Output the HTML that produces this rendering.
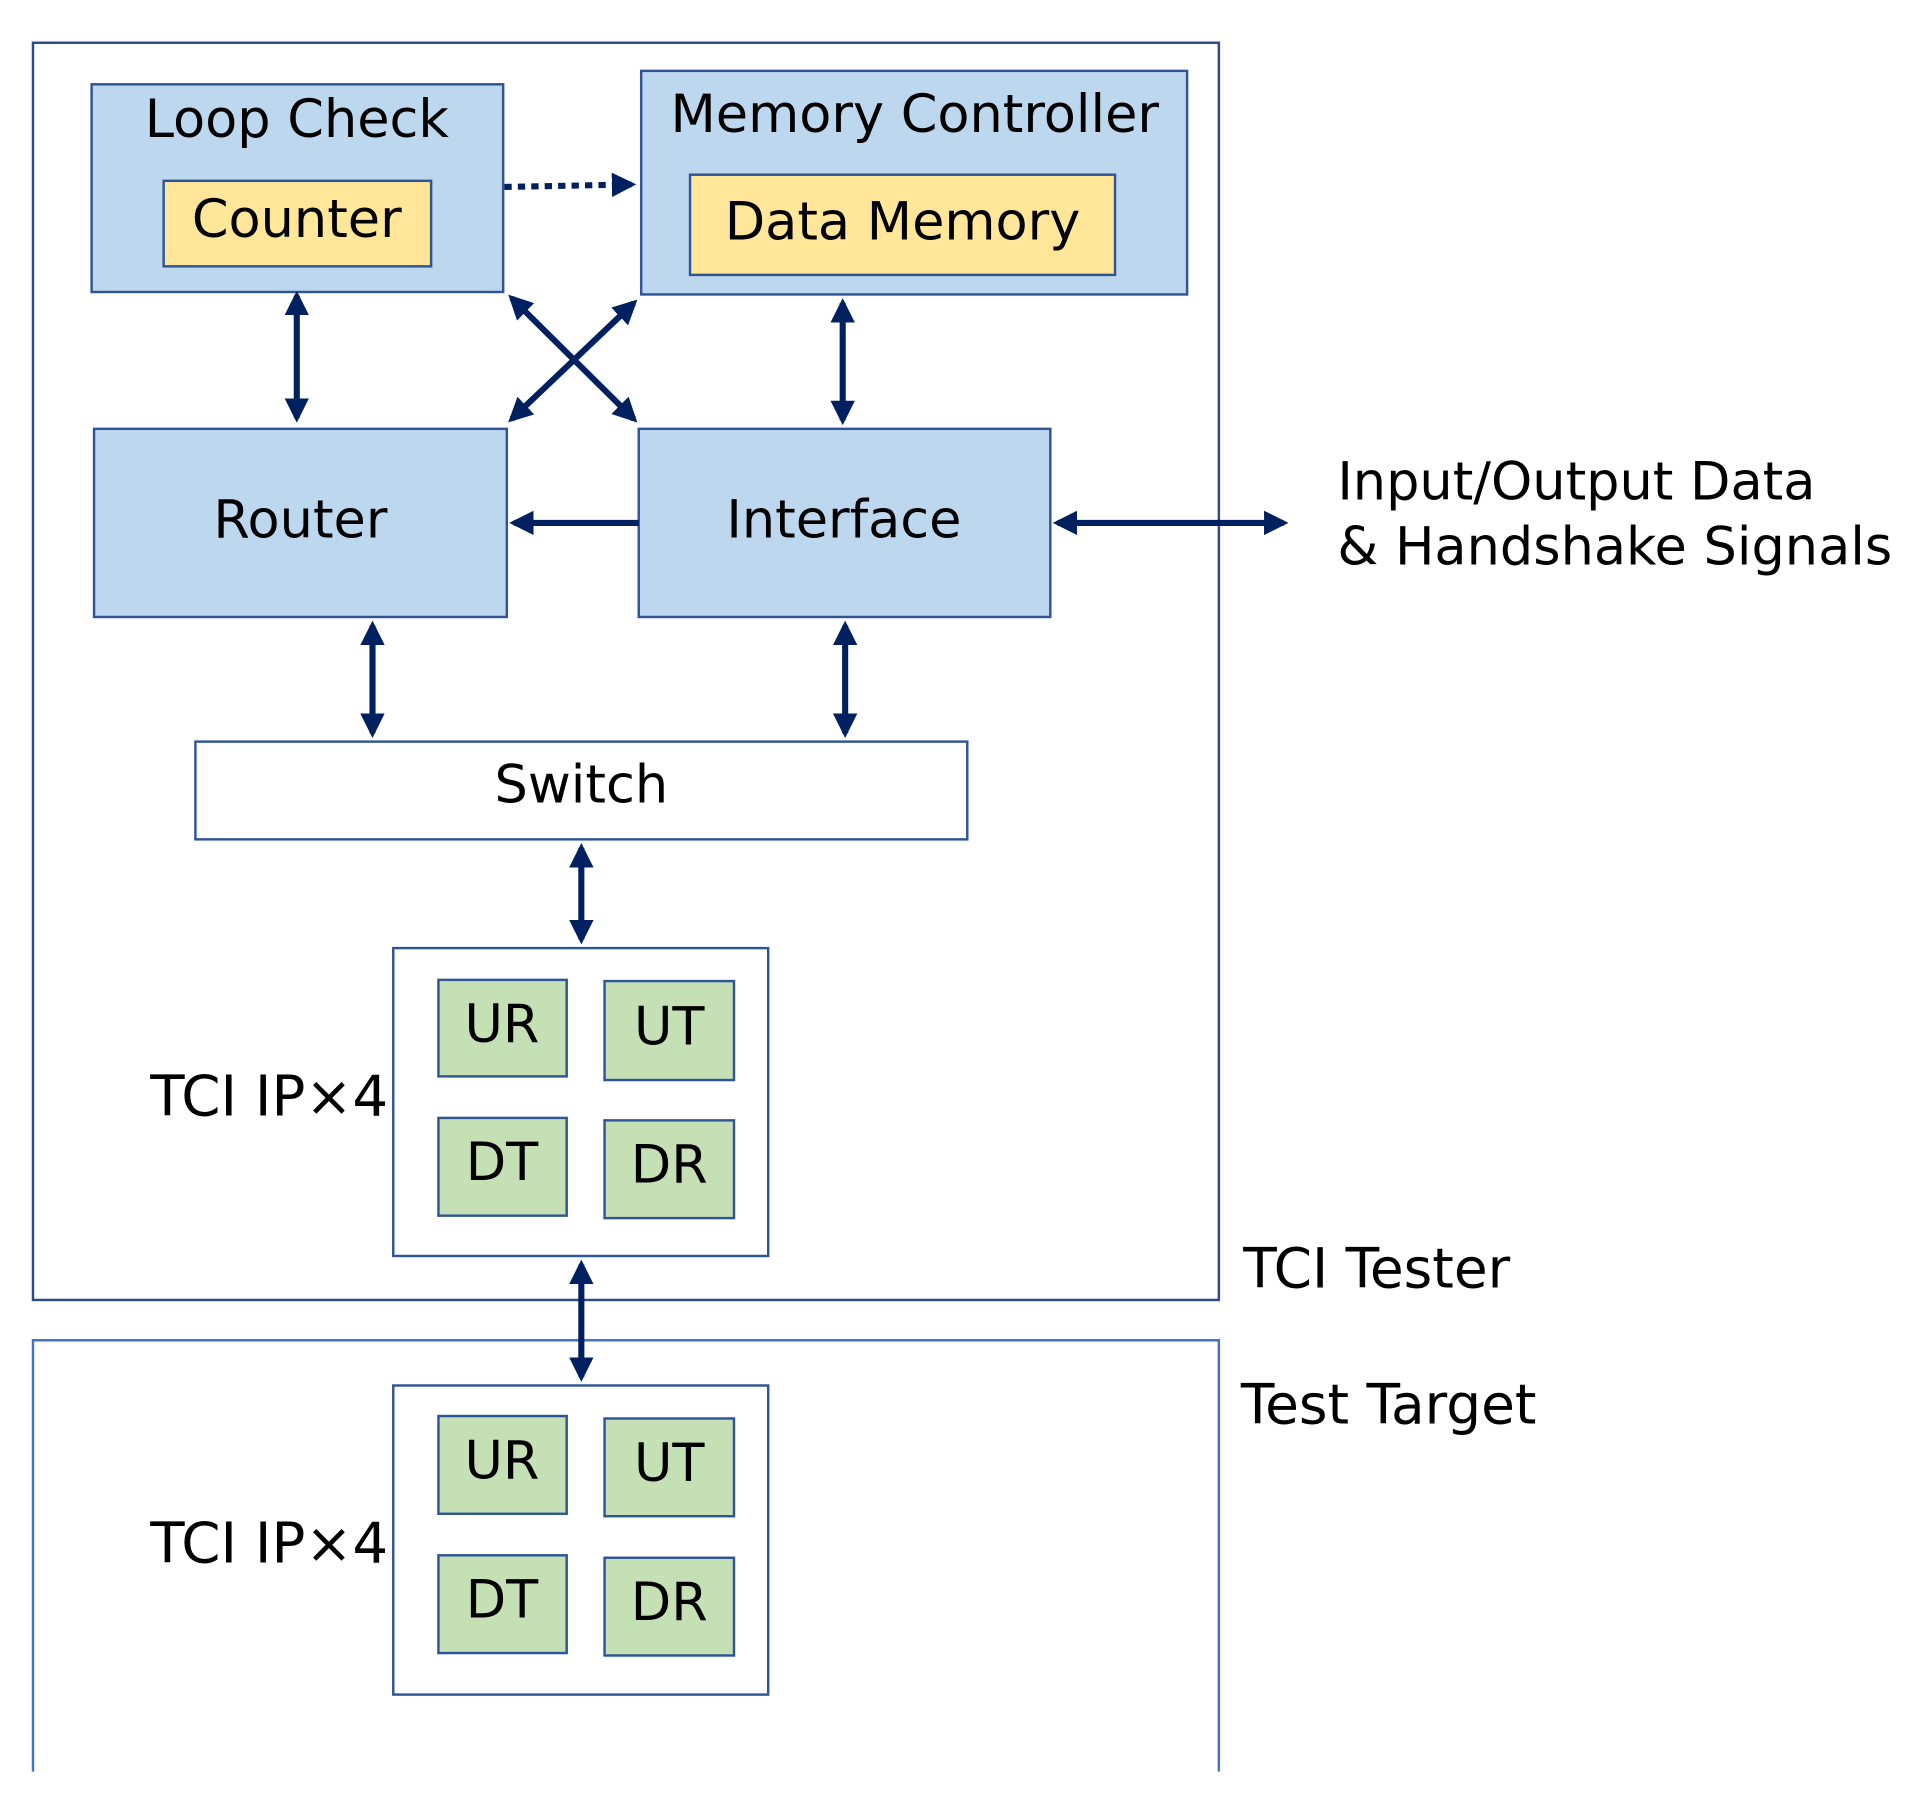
<!DOCTYPE html>
<html><head><meta charset="utf-8"><style>html,body{margin:0;padding:0;background:#fff}svg{display:block}</style></head><body>
<svg width="1915" height="1807" viewBox="0 0 1568 1479" preserveAspectRatio="none" xmlns="http://www.w3.org/2000/svg" font-family="'DejaVu Sans','Liberation Sans',sans-serif" font-size="43" fill="#000">
<defs>
<marker id="a" viewBox="0 0 10 10" refX="8" refY="5" markerWidth="4" markerHeight="4" orient="auto-start-reverse"><path d="M0,0 L10,5 L0,10 z" fill="#002060"/></marker>
</defs>
<rect x="27" y="35" width="971" height="1029" fill="none" stroke="#2f4a8a" stroke-width="2"/>
<path d="M27,1450 V1097 H998 V1450" fill="none" stroke="#4472c4" stroke-width="2"/>
<g stroke="#2f5597" stroke-width="2">
<rect x="75" y="69" width="337" height="170" fill="#bdd7ee"/>
<rect x="134" y="148" width="219" height="70" fill="#ffe699"/>
<rect x="525" y="58" width="447" height="183" fill="#bdd7ee"/>
<rect x="565" y="143" width="348" height="82" fill="#ffe699"/>
<rect x="77" y="351" width="338" height="154" fill="#bdd7ee"/>
<rect x="523" y="351" width="337" height="154" fill="#bdd7ee"/>
<rect x="160" y="607" width="632" height="80" fill="#fff"/>
<rect x="322" y="776" width="307" height="252" fill="#fff"/>
<rect x="322" y="1134" width="307" height="253" fill="#fff"/>
<g fill="#c5e0b4">
<rect x="359" y="802" width="105" height="79"/><rect x="495" y="803" width="106" height="81"/>
<rect x="359" y="915" width="105" height="80"/><rect x="495" y="917" width="106" height="80"/>
<rect x="359" y="1159" width="105" height="80"/><rect x="495" y="1161" width="106" height="80"/>
<rect x="359" y="1273" width="105" height="80"/><rect x="495" y="1275" width="106" height="80"/>
</g></g>
<g stroke="#002060" stroke-width="5" fill="none">
<line x1="243" y1="242" x2="243" y2="342" marker-start="url(#a)" marker-end="url(#a)"/>
<line x1="690" y1="248" x2="690" y2="344" marker-start="url(#a)" marker-end="url(#a)"/>
<line x1="419" y1="244" x2="519" y2="343" marker-start="url(#a)" marker-end="url(#a)"/>
<line x1="519" y1="248" x2="419" y2="343" marker-start="url(#a)" marker-end="url(#a)"/>
<line x1="305" y1="512" x2="305" y2="600" marker-start="url(#a)" marker-end="url(#a)"/>
<line x1="692" y1="512" x2="692" y2="600" marker-start="url(#a)" marker-end="url(#a)"/>
<line x1="476" y1="694" x2="476" y2="769" marker-start="url(#a)" marker-end="url(#a)"/>
<line x1="476" y1="1035" x2="476" y2="1127" marker-start="url(#a)" marker-end="url(#a)"/>
<line x1="523" y1="428" x2="421" y2="428" marker-end="url(#a)"/>
<line x1="866" y1="428" x2="1051" y2="428" marker-start="url(#a)" marker-end="url(#a)"/>
<line x1="413" y1="153" x2="517" y2="151" stroke-dasharray="6,5" marker-end="url(#a)"/>
</g>
<g text-anchor="middle">
<text x="243" y="112">Loop Check</text>
<text x="243" y="194">Counter</text>
<text x="749" y="108">Memory Controller</text>
<text x="739" y="196">Data Memory</text>
<text x="246" y="440">Router</text>
<text x="691" y="440">Interface</text>
<text x="476" y="657">Switch</text>
<text x="411" y="853">UR</text><text x="548" y="855">UT</text>
<text x="411" y="966">DT</text><text x="548" y="968">DR</text>
<text x="411" y="1210">UR</text><text x="548" y="1212">UT</text>
<text x="411" y="1324">DT</text><text x="548" y="1326">DR</text>
</g>
<g font-size="45">
<text x="123" y="913" font-size="46">TCI IP×4</text>
<text x="123" y="1279" font-size="46">TCI IP×4</text>
<text x="1018" y="1054">TCI Tester</text>
<text x="1016" y="1165">Test Target</text>
<text x="1095" y="409" font-size="43">Input/Output Data</text>
<text x="1095" y="462" font-size="43">&amp; Handshake Signals</text>
</g>
</svg>
</body></html>
